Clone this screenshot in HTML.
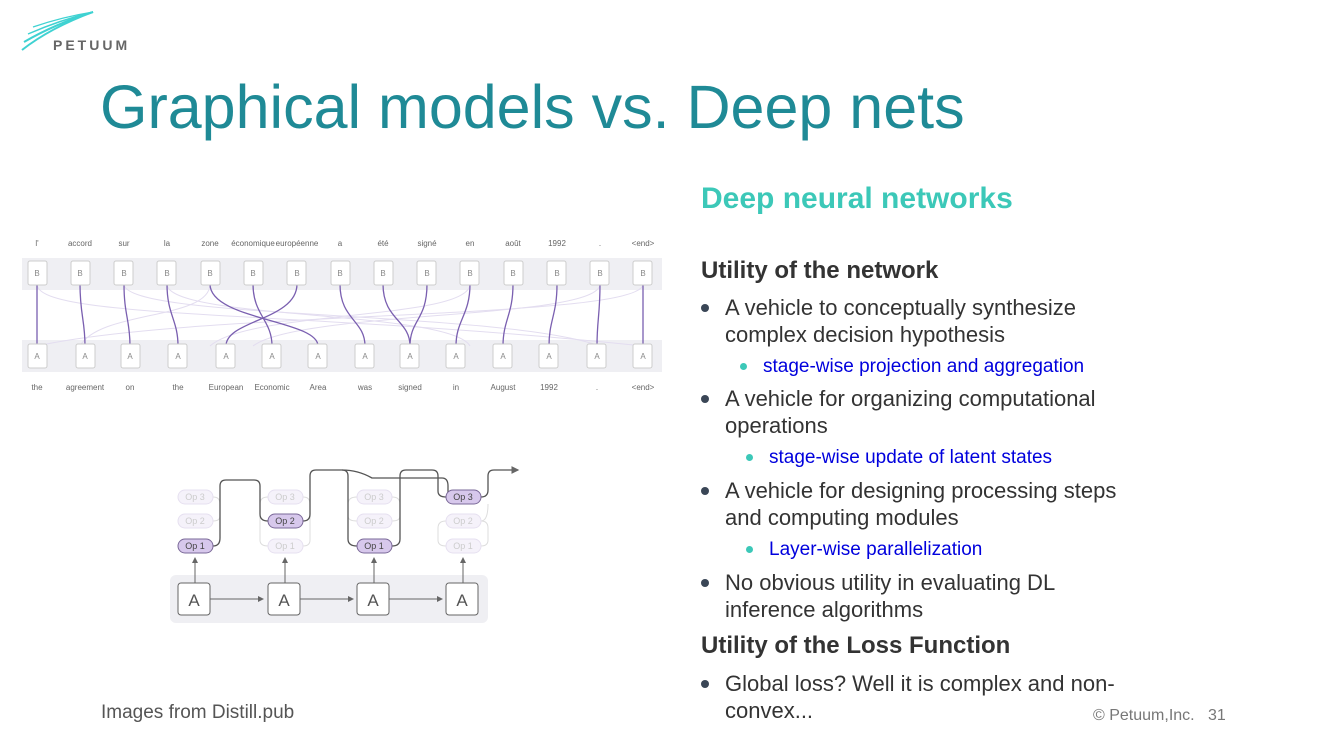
<!DOCTYPE html>
<html><head><meta charset="utf-8"><style>
body{margin:0;width:1333px;height:750px;background:#fff;position:relative;overflow:hidden;font-family:"Liberation Sans",sans-serif}
.t{position:absolute;white-space:nowrap;line-height:1}
.b{font-size:22px;color:#333}
.s{font-size:19px;color:#0000dd}
.d{position:absolute;width:8px;height:8px;border-radius:50%;background:#3a4656}
.sd{position:absolute;width:7px;height:7px;border-radius:50%;background:#3cc8b8}
</style></head><body>
<svg style="position:absolute;left:0;top:0" width="140" height="60">
<path d="M22 50 Q50 28 93 12" stroke="#3fd2d2" stroke-width="2" fill="none"/>
<path d="M24 42 Q55 24 93 12" stroke="#3fd2d2" stroke-width="2" fill="none"/>
<path d="M28 34 Q60 20 93 12" stroke="#3fd2d2" stroke-width="1.5" fill="none"/>
<path d="M33 27 Q62 17 93 12" stroke="#3fd2d2" stroke-width="1.2" fill="none"/>
<text x="53" y="50" font-family="Liberation Sans" font-weight="bold" font-size="14" letter-spacing="3" fill="#666">PETUUM</text>
</svg>
<div class="t" style="left:100px;top:77px;font-size:61px;color:#1f8a96">Graphical models vs. Deep nets</div>

<svg style="position:absolute;left:0;top:230px" width="670" height="170" font-family="Liberation Sans" font-size="8" fill="#666" text-anchor="middle">
<rect x="22" y="28" width="640" height="32" fill="#efeff3"/>
<rect x="22" y="110" width="640" height="32" fill="#efeff3"/>
<g stroke="#e3ddf0" stroke-width="1" fill="none">
<path d="M37 54 C37 90 300 80 643 116"/><path d="M124 54 C124 90 500 80 600 116"/><path d="M210 54 C210 90 100 80 80 116"/><path d="M600 54 C600 90 300 80 253 116"/><path d="M643 54 C643 90 200 80 37 116"/><path d="M470 54 C470 90 250 80 210 116"/><path d="M167 54 C167 90 450 80 470 116"/>
</g>
<g stroke="#7a5fb0" stroke-width="1.3" fill="none">
<path d="M37 54 L37 116"/><path d="M80 54 C80 85 85 90 85 116"/><path d="M124 54 C124 85 130 90 130 116"/><path d="M167 54 C167 85 178 90 178 116"/>
<path d="M210 54 C210 90 318 90 318 116"/><path d="M253 54 C253 85 272 90 272 116"/><path d="M297 54 C297 90 226 90 226 116"/>
<path d="M340 54 C340 90 365 90 365 116"/><path d="M383 54 C383 90 410 90 410 116"/><path d="M427 54 C427 90 410 90 410 116"/><path d="M470 54 C470 85 456 90 456 116"/><path d="M513 54 C513 85 503 90 503 116"/><path d="M557 54 C557 85 549 90 549 116"/><path d="M600 54 C600 85 597 90 597 116"/><path d="M643 54 L643 116"/>
</g>
<g>
<text x="37" y="16">l'</text><text x="80" y="16">accord</text><text x="124" y="16">sur</text><text x="167" y="16">la</text><text x="210" y="16">zone</text><text x="253" y="16">économique</text><text x="297" y="16">européenne</text><text x="340" y="16">a</text><text x="383" y="16">été</text><text x="427" y="16">signé</text><text x="470" y="16">en</text><text x="513" y="16">août</text><text x="557" y="16">1992</text><text x="600" y="16">.</text><text x="643" y="16">&lt;end&gt;</text>
</g>
<g fill="#fff" stroke="#ccc">
<rect x="28" y="31" width="19" height="24" rx="2"/><rect x="71" y="31" width="19" height="24" rx="2"/><rect x="114" y="31" width="19" height="24" rx="2"/><rect x="157" y="31" width="19" height="24" rx="2"/><rect x="201" y="31" width="19" height="24" rx="2"/><rect x="244" y="31" width="19" height="24" rx="2"/><rect x="287" y="31" width="19" height="24" rx="2"/><rect x="331" y="31" width="19" height="24" rx="2"/><rect x="374" y="31" width="19" height="24" rx="2"/><rect x="417" y="31" width="19" height="24" rx="2"/><rect x="460" y="31" width="19" height="24" rx="2"/><rect x="504" y="31" width="19" height="24" rx="2"/><rect x="547" y="31" width="19" height="24" rx="2"/><rect x="590" y="31" width="19" height="24" rx="2"/><rect x="633" y="31" width="19" height="24" rx="2"/>
<rect x="28" y="114" width="19" height="24" rx="2"/><rect x="76" y="114" width="19" height="24" rx="2"/><rect x="121" y="114" width="19" height="24" rx="2"/><rect x="168" y="114" width="19" height="24" rx="2"/><rect x="216" y="114" width="19" height="24" rx="2"/><rect x="262" y="114" width="19" height="24" rx="2"/><rect x="308" y="114" width="19" height="24" rx="2"/><rect x="355" y="114" width="19" height="24" rx="2"/><rect x="400" y="114" width="19" height="24" rx="2"/><rect x="446" y="114" width="19" height="24" rx="2"/><rect x="493" y="114" width="19" height="24" rx="2"/><rect x="539" y="114" width="19" height="24" rx="2"/><rect x="587" y="114" width="19" height="24" rx="2"/><rect x="633" y="114" width="19" height="24" rx="2"/>
</g>
<g fill="#888">
<text x="37" y="46">B</text><text x="80" y="46">B</text><text x="124" y="46">B</text><text x="167" y="46">B</text><text x="210" y="46">B</text><text x="253" y="46">B</text><text x="297" y="46">B</text><text x="340" y="46">B</text><text x="383" y="46">B</text><text x="427" y="46">B</text><text x="470" y="46">B</text><text x="513" y="46">B</text><text x="557" y="46">B</text><text x="600" y="46">B</text><text x="643" y="46">B</text>
<text x="37" y="129">A</text><text x="85" y="129">A</text><text x="130" y="129">A</text><text x="178" y="129">A</text><text x="226" y="129">A</text><text x="272" y="129">A</text><text x="318" y="129">A</text><text x="365" y="129">A</text><text x="410" y="129">A</text><text x="456" y="129">A</text><text x="503" y="129">A</text><text x="549" y="129">A</text><text x="597" y="129">A</text><text x="643" y="129">A</text>
</g>
<text x="37" y="160">the</text><text x="85" y="160">agreement</text><text x="130" y="160">on</text><text x="178" y="160">the</text><text x="226" y="160">European</text><text x="272" y="160">Economic</text><text x="318" y="160">Area</text><text x="365" y="160">was</text><text x="410" y="160">signed</text><text x="456" y="160">in</text><text x="503" y="160">August</text><text x="549" y="160">1992</text><text x="597" y="160">.</text><text x="643" y="160">&lt;end&gt;</text>
</svg>

<svg style="position:absolute;left:160px;top:460px" width="370" height="170" font-family="Liberation Sans" font-size="9" text-anchor="middle">
<defs><marker id="ar" markerWidth="6" markerHeight="6" refX="5" refY="3" orient="auto"><path d="M0 0 L6 3 L0 6z" fill="#666"/></marker></defs>
<rect x="10" y="115" width="318" height="48" rx="6" fill="#efeff3"/>
<g stroke="#666" stroke-width="1" fill="none">
<line x1="50" y1="139" x2="103" y2="139" marker-end="url(#ar)"/><line x1="140" y1="139" x2="193" y2="139" marker-end="url(#ar)"/><line x1="229" y1="139" x2="282" y2="139" marker-end="url(#ar)"/>
<line x1="35" y1="123" x2="35" y2="98" marker-end="url(#ar)"/><line x1="125" y1="123" x2="125" y2="98" marker-end="url(#ar)"/><line x1="214" y1="123" x2="214" y2="98" marker-end="url(#ar)"/><line x1="303" y1="123" x2="303" y2="98" marker-end="url(#ar)"/>
</g>
<g stroke="#ddd" fill="none"><path d="M53 37 Q60 37 60 44 V80"/><path d="M53 61 Q60 61 60 56"/><path d="M108 37 Q100 37 100 44"/><path d="M108 86 Q100 86 100 80 V40"/><path d="M143 37 Q150 37 150 44 V80 Q150 86 143 86"/><path d="M197 37 Q188 37 188 44"/><path d="M197 61 Q188 61 188 56"/><path d="M232 37 Q240 37 240 44 V80"/><path d="M232 61 Q240 61 240 56"/><path d="M286 61 Q278 61 278 68 V80 Q278 86 286 86"/><path d="M321 61 Q328 61 328 68 V80 Q328 86 321 86"/><path d="M321 61 Q328 61 328 44"/></g>
<g stroke="#555" stroke-width="1.3" fill="none">
<path d="M53 86 Q60 86 60 78 V26 Q60 20 66 20 H94 Q100 20 100 26 V54 Q100 61 108 61"/>
<path d="M143 61 Q150 61 150 54 V16 Q150 10 156 10 H182 Q188 10 188 16 V79 Q188 86 197 86"/>
<path d="M182 10 Q198 10 212 18 H282 Q288 18 288 26 V32 Q288 37 286 37"/>
<path d="M232 86 Q240 86 240 79 V16 Q240 10 246 10 H272 Q278 10 278 16 V31 Q278 37 286 37"/>
<path d="M321 37 Q328 37 328 30 V16 Q328 10 334 10 H358" marker-end="url(#ar)"/>
</g>
<g>
<rect x="18" y="30" width="35" height="14" rx="7" fill="#f5f2fa" stroke="#e6e0f0"/><text x="35" y="40" fill="#ccc">Op 3</text>
<rect x="18" y="54" width="35" height="14" rx="7" fill="#f5f2fa" stroke="#e6e0f0"/><text x="35" y="64" fill="#ccc">Op 2</text>
<rect x="18" y="79" width="35" height="14" rx="7" fill="#d7c8ec" stroke="#7a6898"/><text x="35" y="89" fill="#444">Op 1</text>
<rect x="108" y="30" width="35" height="14" rx="7" fill="#f5f2fa" stroke="#e6e0f0"/><text x="125" y="40" fill="#ccc">Op 3</text>
<rect x="108" y="54" width="35" height="14" rx="7" fill="#d7c8ec" stroke="#7a6898"/><text x="125" y="64" fill="#444">Op 2</text>
<rect x="108" y="79" width="35" height="14" rx="7" fill="#f5f2fa" stroke="#e6e0f0"/><text x="125" y="89" fill="#ccc">Op 1</text>
<rect x="197" y="30" width="35" height="14" rx="7" fill="#f5f2fa" stroke="#e6e0f0"/><text x="214" y="40" fill="#ccc">Op 3</text>
<rect x="197" y="54" width="35" height="14" rx="7" fill="#f5f2fa" stroke="#e6e0f0"/><text x="214" y="64" fill="#ccc">Op 2</text>
<rect x="197" y="79" width="35" height="14" rx="7" fill="#d7c8ec" stroke="#7a6898"/><text x="214" y="89" fill="#444">Op 1</text>
<rect x="286" y="30" width="35" height="14" rx="7" fill="#d7c8ec" stroke="#7a6898"/><text x="303" y="40" fill="#444">Op 3</text>
<rect x="286" y="54" width="35" height="14" rx="7" fill="#f5f2fa" stroke="#e6e0f0"/><text x="303" y="64" fill="#ccc">Op 2</text>
<rect x="286" y="79" width="35" height="14" rx="7" fill="#f5f2fa" stroke="#e6e0f0"/><text x="303" y="89" fill="#ccc">Op 1</text>
</g>
<g fill="#fff" stroke="#666"><rect x="18" y="123" width="32" height="32" rx="3"/><rect x="108" y="123" width="32" height="32" rx="3"/><rect x="197" y="123" width="32" height="32" rx="3"/><rect x="286" y="123" width="32" height="32" rx="3"/></g>
<g font-size="17" fill="#555"><text x="34" y="146">A</text><text x="124" y="146">A</text><text x="213" y="146">A</text><text x="302" y="146">A</text></g>
</svg>

<div class="t" style="left:701px;top:184px;font-size:30px;font-weight:bold;color:#3cc8b8">Deep neural networks</div>
<div class="t" style="left:701px;top:259px;font-size:24px;font-weight:bold;color:#333">Utility of the network</div>
<div class="d" style="left:701px;top:304px"></div><div class="t b" style="left:725px;top:297px">A vehicle to conceptually synthesize</div>
<div class="t b" style="left:725px;top:324px">complex decision hypothesis</div>
<div class="sd" style="left:740px;top:363px"></div><div class="t s" style="left:763px;top:357px">stage-wise projection and aggregation</div>
<div class="d" style="left:701px;top:395px"></div><div class="t b" style="left:725px;top:388px">A vehicle for organizing computational</div>
<div class="t b" style="left:725px;top:415px">operations</div>
<div class="sd" style="left:746px;top:454px"></div><div class="t s" style="left:769px;top:448px">stage-wise update of latent states</div>
<div class="d" style="left:701px;top:487px"></div><div class="t b" style="left:725px;top:480px">A vehicle for designing processing steps</div>
<div class="t b" style="left:725px;top:507px">and computing modules</div>
<div class="sd" style="left:746px;top:546px"></div><div class="t s" style="left:769px;top:540px">Layer-wise parallelization</div>
<div class="d" style="left:701px;top:579px"></div><div class="t b" style="left:725px;top:572px">No obvious utility in evaluating DL</div>
<div class="t b" style="left:725px;top:599px">inference algorithms</div>
<div class="t" style="left:701px;top:634px;font-size:24px;font-weight:bold;color:#333">Utility of the Loss Function</div>
<div class="d" style="left:701px;top:680px"></div><div class="t b" style="left:725px;top:673px">Global loss? Well it is complex and non-</div>
<div class="t b" style="left:725px;top:700px">convex...</div>
<div class="t" style="left:101px;top:703px;font-size:19px;color:#555">Images from Distill.pub</div>
<div class="t" style="left:1093px;top:708px;font-size:16px;color:#777">© Petuum,Inc.&nbsp;&nbsp;&nbsp;31</div>
</body></html>
